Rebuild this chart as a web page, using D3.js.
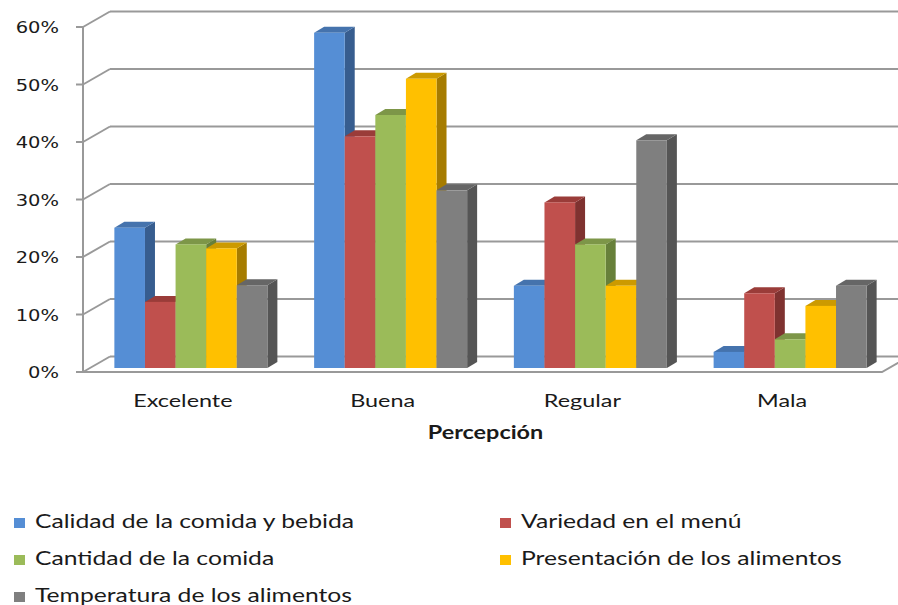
<!DOCTYPE html>
<html>
<head>
<meta charset="utf-8">
<script src="https://cdn.jsdelivr.net/npm/d3@7"></script>
<style>
  body { margin: 0; background: #fff; }
  svg { display: block; }
</style>
</head>
<body>
<div id="chart"></div>
<script>
// data
var categories = ["Excelente", "Buena", "Regular", "Mala"];
var seriesNames = ["Calidad de la comida y bebida", "Variedad en el menú", "Cantidad de la comida",
	"Presentación de los alimentos", "Temperatura de los alimentos"];
var calidad = [0.244, 0.583, 0.143, 0.028];
var variedad = [0.115, 0.403, 0.288, 0.13];
var cantidad = [0.215, 0.44, 0.215, 0.05];
var presentacion = [0.208, 0.503, 0.143, 0.108];
var temperatura = [0.144, 0.309, 0.396, 0.143];
var yTicks = [0, 0.1, 0.2, 0.3, 0.4, 0.5, 0.6];
var axisTitle = "Percepción";

var values = [calidad, variedad, cantidad, presentacion, temperatura];
var colors = [
	{ front: "#558ed5", side: "#375d8f", top: "#4573ad" },
	{ front: "#c0504d", side: "#7f3230", top: "#9a3c39" },
	{ front: "#9bbb59", side: "#67803a", top: "#7d9648" },
	{ front: "#ffc000", side: "#a67c00", top: "#cc9a00" },
	{ front: "#7f7f7f", side: "#555555", top: "#666666" }
];

var width = 898, height = 605;
var left = 83, right = 882, base = 372, topY = 27;
var depthX = 27, depthY = -15.5;   // wall depth
var barDx = 10, barDy = -6;        // bar depth
var barOffX = 8, barOffY = -4;     // bars sit a bit behind the front plane
var stretch = 1.3;                 // text in the reference is stretched horizontally
var gridColor = "#999999";
var textColor = "#1a1a1a";

var svg = d3.select("#chart").append("svg")
	.attr("width", width)
	.attr("height", height);

var x0 = d3.scaleBand().domain(categories).range([left, right]);
var groupW = x0.bandwidth() * 0.766;
var x1 = d3.scaleBand().domain(d3.range(values.length)).range([0, groupW]);
var y = d3.scaleLinear().domain([0, 0.6]).range([base, topY]);

// back wall grid lines
svg.append("g").selectAll("line")
	.data(yTicks)
	.enter().append("line")
		.attr("x1", left + depthX).attr("x2", right + depthX)
		.attr("y1", (d) => y(d) + depthY).attr("y2", (d) => y(d) + depthY)
		.attr("stroke", gridColor).attr("stroke-width", 2);

// left wall diagonals
svg.append("g").selectAll("line")
	.data(yTicks)
	.enter().append("line")
		.attr("x1", left).attr("x2", left + depthX)
		.attr("y1", (d) => y(d)).attr("y2", (d) => y(d) + depthY)
		.attr("stroke", gridColor).attr("stroke-width", 2);

// floor front edge + right edge
svg.append("path")
	.attr("d", "M" + left + "," + base + "L" + right + "," + base + "L" + (right + depthX) + "," + (base + depthY))
	.attr("fill", "none").attr("stroke", gridColor).attr("stroke-width", 2);

// y axis line and ticks
svg.append("line")
	.attr("x1", left).attr("x2", left)
	.attr("y1", y(0.6)).attr("y2", y(0))
	.attr("stroke", gridColor).attr("stroke-width", 2);

svg.append("g").selectAll("line")
	.data(yTicks)
	.enter().append("line")
		.attr("x1", left - 7).attr("x2", left)
		.attr("y1", (d) => y(d)).attr("y2", (d) => y(d))
		.attr("stroke", gridColor).attr("stroke-width", 2);

svg.append("g").selectAll("text")
	.data(yTicks)
	.enter().append("text")
		.attr("transform", (d) => "translate(59," + (y(d) + 6) + ") scale(" + stretch + ",1)")
		.attr("text-anchor", "end")
		.attr("font-family", "DejaVu Sans, Verdana, sans-serif")
		.attr("font-size", "15px")
		.attr("fill", textColor)
		.text(d3.format(".0%"));

// bars
var bars = [];
categories.forEach(function (c, ci) {
	values.forEach(function (s, si) {
		bars.push({ cat: c, si: si, v: s[ci] });
	});
});

var barW = x1.bandwidth();
function bx(d) { return x0(d.cat) + (x0.bandwidth() - groupW) / 2 + x1(d.si) + barOffX; }
function by0() { return y(0) + barOffY; }
function by1(d) { return y(d.v) + barOffY; }

var barG = svg.append("g").selectAll("g")
	.data(bars)
	.enter().append("g");

barG.append("path")
	.attr("fill", (d) => colors[d.si].side)
	.attr("d", function (d) {
		var x = bx(d) + barW;
		return "M" + x + "," + by1(d) + "L" + (x + barDx) + "," + (by1(d) + barDy) +
			"L" + (x + barDx) + "," + (by0() + barDy) + "L" + x + "," + by0() + "Z";
	});

barG.append("path")
	.attr("fill", (d) => colors[d.si].top)
	.attr("d", function (d) {
		var x = bx(d);
		return "M" + x + "," + by1(d) + "L" + (x + barW) + "," + by1(d) +
			"L" + (x + barW + barDx) + "," + (by1(d) + barDy) + "L" + (x + barDx) + "," + (by1(d) + barDy) + "Z";
	});

barG.append("rect")
	.attr("x", bx)
	.attr("y", by1)
	.attr("width", barW)
	.attr("height", (d) => by0() - by1(d))
	.attr("fill", (d) => colors[d.si].front);

// category labels
svg.append("g").selectAll("text")
	.data(categories)
	.enter().append("text")
		.attr("transform", (d) => "translate(" + (x0(d) + x0.bandwidth() / 2) + ",407) scale(" + stretch + ",1)")
		.attr("text-anchor", "middle")
		.attr("font-family", "Lato, sans-serif")
		.attr("font-size", "18px")
		.attr("fill", textColor)
		.text((d) => d);

svg.append("text")
	.attr("transform", "translate(" + ((left + right) / 2 + 3) + ",439) scale(" + stretch + ",1)")
	.attr("text-anchor", "middle")
	.attr("font-family", "Lato, sans-serif")
	.attr("font-weight", "bold")
	.attr("font-size", "18px")
	.attr("fill", textColor)
	.text(axisTitle);

// legend
var legend = svg.append("g").selectAll("g")
	.data(seriesNames)
	.enter().append("g")
		.attr("transform", (d, i) => "translate(" + (i % 2 ? 500 : 14) + "," + (528 + Math.floor(i / 2) * 37) + ")");

legend.append("rect")
	.attr("x", 0).attr("y", -10)
	.attr("width", 11).attr("height", 10)
	.attr("fill", (d, i) => colors[i].front);

legend.append("text")
	.attr("transform", "translate(21,0) scale(" + stretch + ",1)")
	.attr("font-family", "Lato, sans-serif")
	.attr("font-size", "19px")
	.attr("fill", textColor)
	.text((d) => d);
</script>
</body>
</html>
